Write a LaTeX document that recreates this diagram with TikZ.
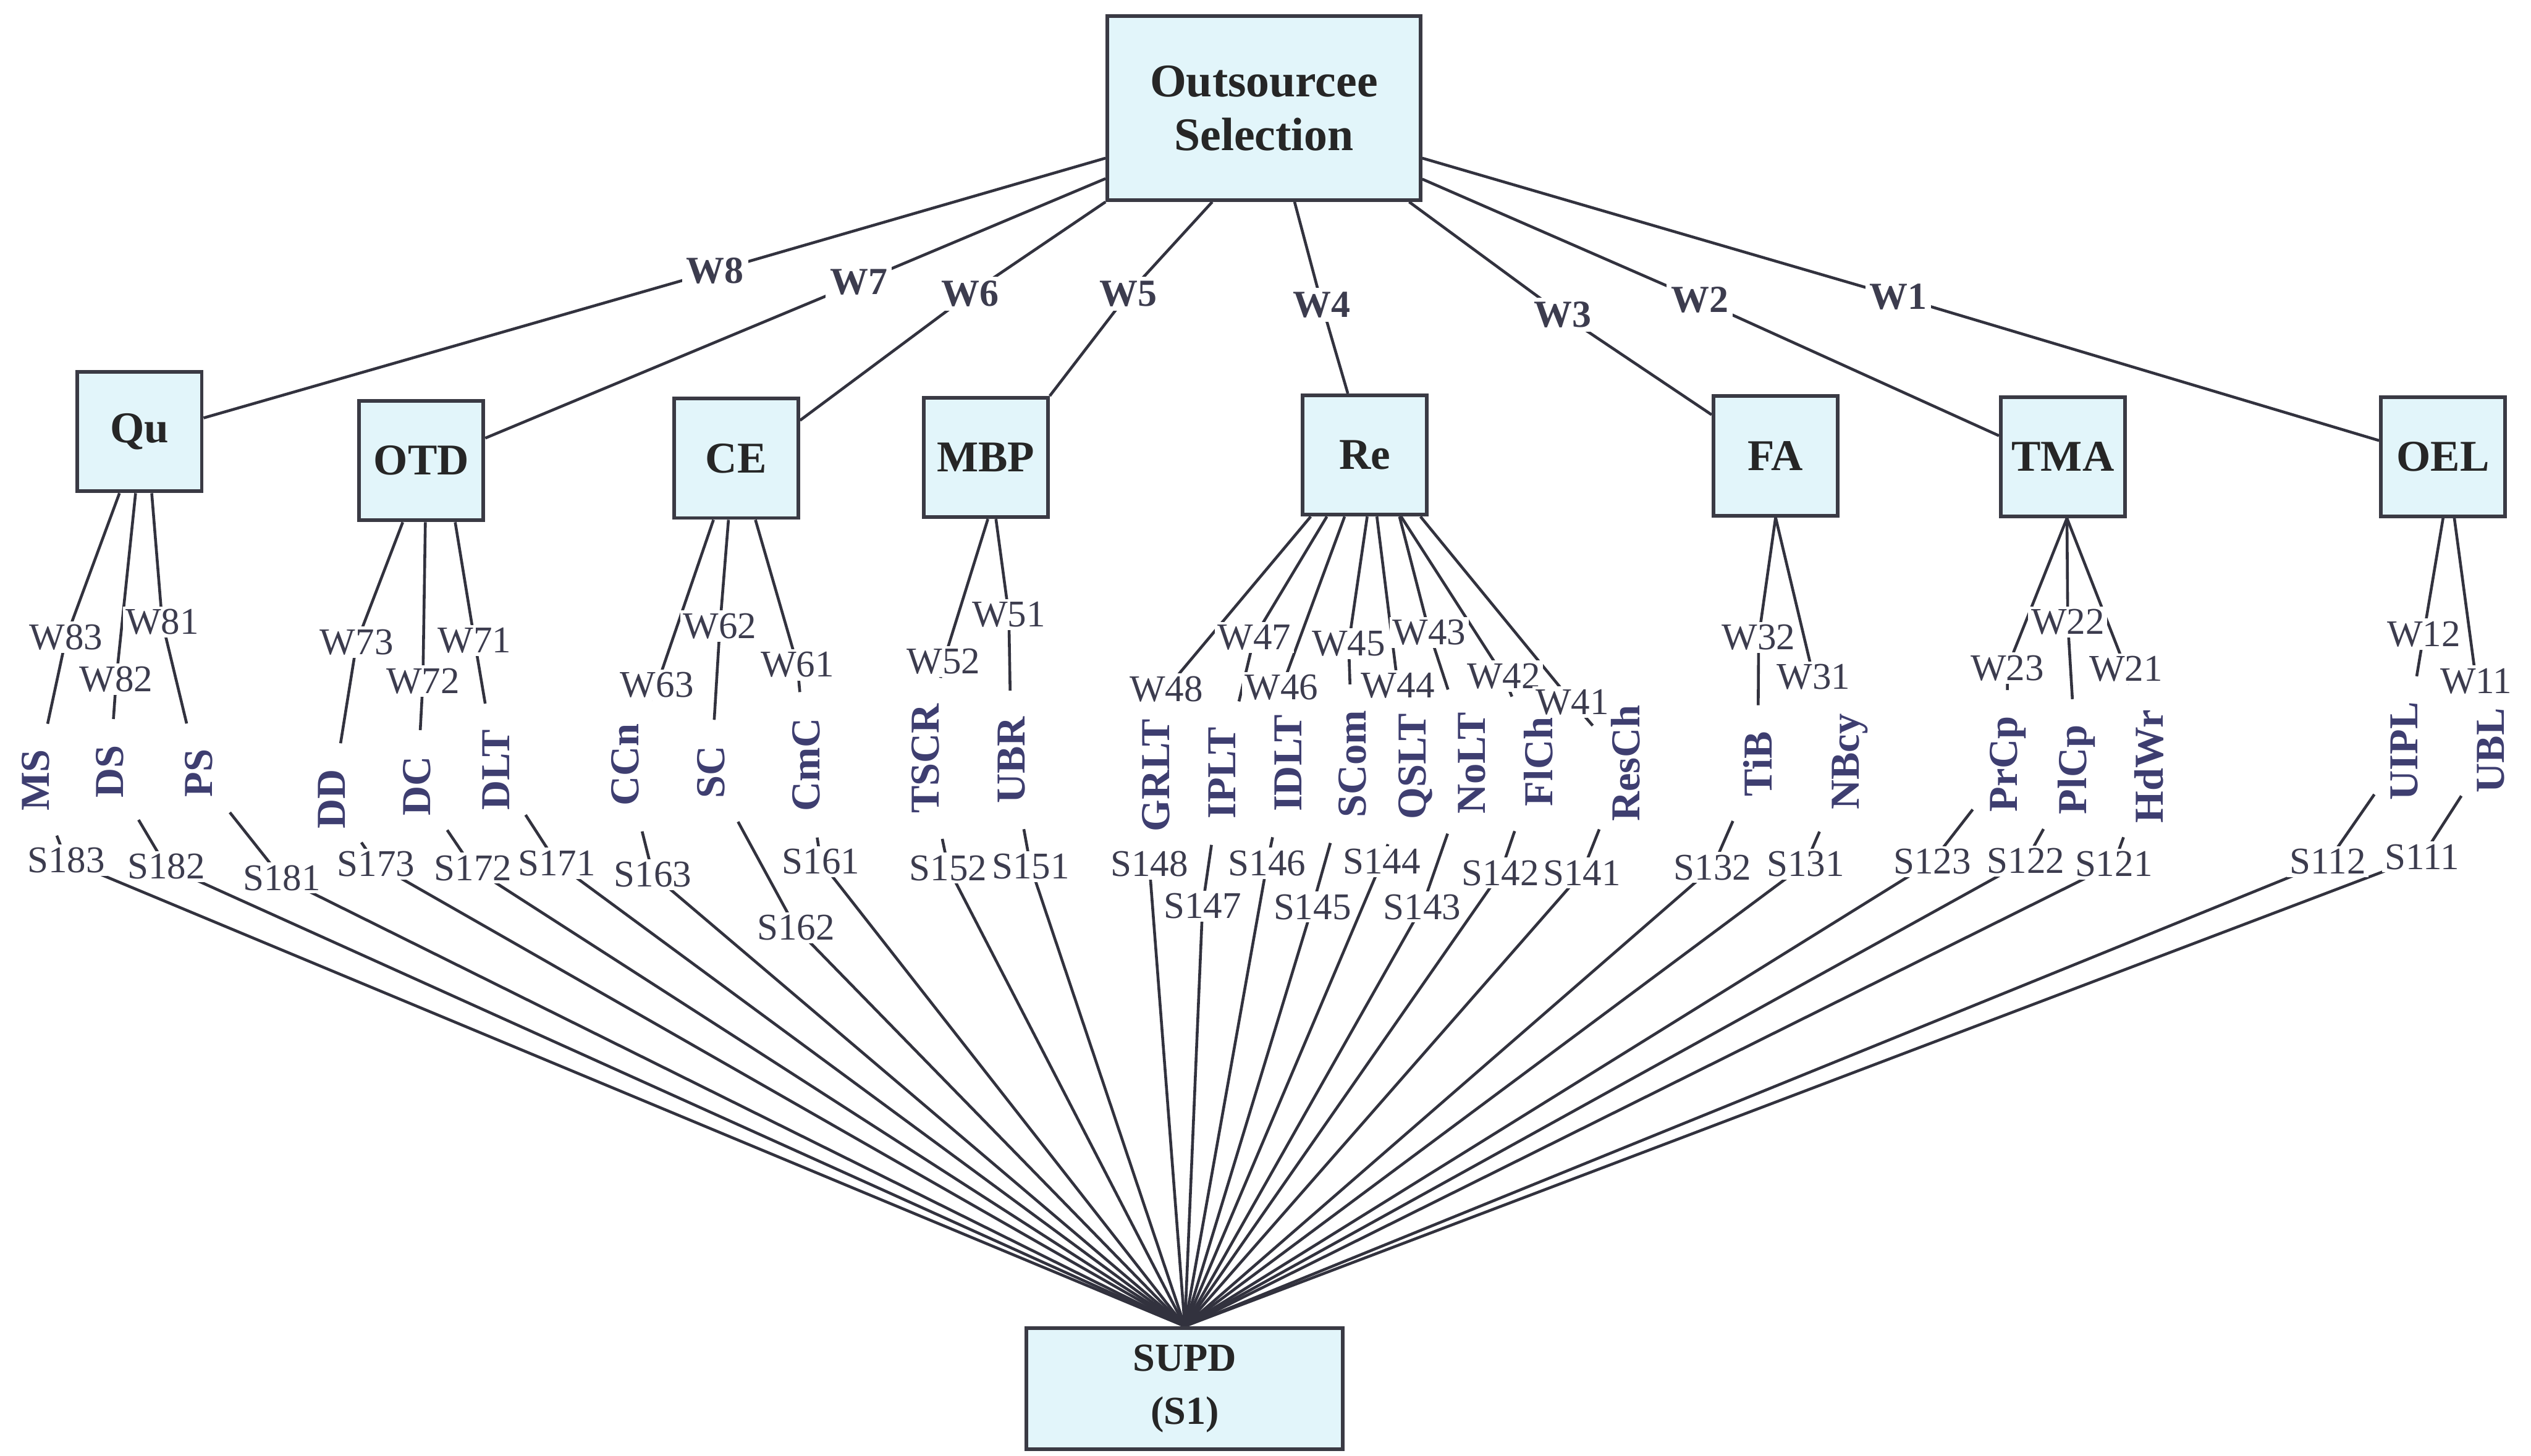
\documentclass[tikz,border=0pt]{standalone}
\usepackage{fontspec}
\setmainfont{Liberation Serif}
\usetikzlibrary{calc,backgrounds}

\definecolor{boxfill}{RGB}{226,245,250}
\definecolor{boxline}{RGB}{58,58,68}
\definecolor{linecol}{RGB}{50,50,62}
\definecolor{subcol}{RGB}{62,62,112}
\definecolor{labcol}{RGB}{60,60,78}

\begin{document}
\begin{tikzpicture}[x = 0.02cm, y = -0.02cm,
        goal/.style = {draw = boxline, line width = 1.3pt, fill = boxfill, align = center, inner sep = 0pt, text = black!85},
        crit/.style = {draw = boxline, line width = 1.3pt, fill = boxfill, inner sep = 0pt,
            minimum width = 1.54cm, minimum height = 1.48cm, text = black!85,
            font = \fontsize{15.5}{18}\selectfont\bfseries},
        subc/.style = {rotate = 90, inner sep = 1pt, text = subcol,
            font = \fontsize{14.5}{17}\selectfont\bfseries},
        wtop/.style = {fill = white, inner sep = 1.5pt, text = labcol,
            font = \fontsize{13.5}{16}\selectfont\bfseries},
        lab/.style = {fill = white, inner sep = 1pt, text = labcol,
            font = \fontsize{13.3}{16}\selectfont},
        conn/.style = {draw = linecol, line width = 1pt},
        wline/.style = {conn, shorten > = 8pt},
        sline/.style = {conn, shorten < = 8pt}]

        \useasboundingbox ( 0, 0 ) rectangle ( 1568, 902 );

        % цель и альтернатива
        \node [goal, minimum width = 3.88cm, minimum height = 2.28cm, font = \fontsize{16.5}{19}\selectfont\bfseries] (os) at ( 783, 67 ) {Outsourcee\\Selection};
        \node [goal, minimum width = 3.92cm, minimum height = 1.5cm, font = \fontsize{14}{18.8}\selectfont\bfseries] (supd) at ( 734, 860.5 ) {SUPD\\(S1)};

        % критерии
        \node [crit] (qu) at ( 86.5, 267.5 ) {Qu};
        \node [crit] (otd) at ( 261, 285.5 ) {OTD};
        \node [crit] (ce) at ( 456, 284 ) {CE};
        \node [crit] (mbp) at ( 610.7, 283.5 ) {MBP};
        \node [crit] (re) at ( 845.5, 282 ) {Re};
        \node [crit] (fa) at ( 1100, 282.5 ) {FA};
        \node [crit] (tma) at ( 1278, 283 ) {TMA};
        \node [crit] (oel) at ( 1513.5, 283 ) {OEL};

        % веса критериев
        \node [wtop] (w8) at ( 443, 168 ) {W8};
        \node [wtop] (w7) at ( 532, 175 ) {W7};
        \node [wtop] (w6) at ( 601, 182 ) {W6};
        \node [wtop] (w5) at ( 699, 182 ) {W5};
        \node [wtop] (w4) at ( 819, 189 ) {W4};
        \node [wtop] (w3) at ( 968, 195 ) {W3};
        \node [wtop] (w2) at ( 1053, 186 ) {W2};
        \node [wtop] (w1) at ( 1176, 184 ) {W1};

        % подкритерии
        \node [subc] (ms) at ( 22, 483.5 ) {MS};
        \node [subc] (ds) at ( 68, 478 ) {DS};
        \node [subc] (ps) at ( 123, 479 ) {PS};
        \node [subc] (dd) at ( 205.5, 495 ) {DD};
        \node [subc] (dc) at ( 258.5, 487 ) {DC};
        \node [subc] (dlt) at ( 307.5, 477 ) {DLT};
        \node [subc] (ccn) at ( 387.5, 474 ) {CCn};
        \node [subc] (sc) at ( 440.5, 478.5 ) {SC};
        \node [subc] (cmc) at ( 499.5, 474 ) {CmC};
        \node [subc] (tscr) at ( 573.5, 470 ) {TSCR};
        \node [subc] (ubr) at ( 626.5, 471 ) {UBR};
        \node [subc] (grlt) at ( 716, 480.5 ) {GRLT};
        \node [subc] (iplt) at ( 757, 479 ) {IPLT};
        \node [subc] (idlt) at ( 798, 473 ) {IDLT};
        \node [subc] (scom) at ( 838, 473.5 ) {SCom};
        \node [subc] (qslt) at ( 877, 475 ) {QSLT};
        \node [subc] (nolt) at ( 912, 473 ) {NoLT};
        \node [subc] (flch) at ( 953, 472 ) {FlCh};
        \node [subc] (resch) at ( 1007, 473 ) {ResCh};
        \node [subc] (tib) at ( 1089, 473.5 ) {TiB};
        \node [subc] (nbcy) at ( 1146, 472 ) {NBcy};
        \node [subc] (prcp) at ( 1244, 473.5 ) {PrCp};
        \node [subc] (plcp) at ( 1286.5, 477 ) {PlCp};
        \node [subc] (hdwr) at ( 1331.5, 475 ) {HdWr};
        \node [subc] (uipl) at ( 1489.5, 465.5 ) {UIPL};
        \node [subc] (ubl) at ( 1543, 465 ) {UBL};

        % веса подкритериев
        \node [lab] (w83) at ( 41, 395 ) {W83};
        \node [lab] (w82) at ( 72, 421 ) {W82};
        \node [lab] (w81) at ( 100.5, 385.5 ) {W81};
        \node [lab] (w73) at ( 221, 398 ) {W73};
        \node [lab] (w72) at ( 262, 422 ) {W72};
        \node [lab] (w71) at ( 294, 397 ) {W71};
        \node [lab] (w63) at ( 407, 424.5 ) {W63};
        \node [lab] (w62) at ( 446, 388 ) {W62};
        \node [lab] (w61) at ( 494, 412 ) {W61};
        \node [lab] (w52) at ( 584.5, 410 ) {W52};
        \node [lab] (w51) at ( 625, 381 ) {W51};
        \node [lab] (w48) at ( 722.5, 427 ) {W48};
        \node [lab] (w47) at ( 777, 395 ) {W47};
        \node [lab] (w46) at ( 794, 426 ) {W46};
        \node [lab] (w45) at ( 835.5, 399 ) {W45};
        \node [lab] (w44) at ( 866, 425 ) {W44};
        \node [lab] (w43) at ( 885.5, 392 ) {W43};
        \node [lab] (w42) at ( 931.5, 419 ) {W42};
        \node [lab] (w41) at ( 974, 435 ) {W41};
        \node [lab] (w32) at ( 1089.5, 395 ) {W32};
        \node [lab] (w31) at ( 1123.5, 419.5 ) {W31};
        \node [lab] (w23) at ( 1243.5, 414 ) {W23};
        \node [lab] (w22) at ( 1281, 385.5 ) {W22};
        \node [lab] (w21) at ( 1317, 414.5 ) {W21};
        \node [lab] (w12) at ( 1501.5, 393 ) {W12};
        \node [lab] (w11) at ( 1534, 422 ) {W11};

        % оценки альтернативы
        \node [lab] (s183) at ( 41, 533 ) {S183};
        \node [lab] (s182) at ( 103, 537 ) {S182};
        \node [lab] (s181) at ( 174.5, 544 ) {S181};
        \node [lab] (s173) at ( 233, 535.5 ) {S173};
        \node [lab] (s172) at ( 293, 538 ) {S172};
        \node [lab] (s171) at ( 345, 535 ) {S171};
        \node [lab] (s163) at ( 404.5, 542 ) {S163};
        \node [lab] (s162) at ( 493, 575 ) {S162};
        \node [lab] (s161) at ( 508.5, 534 ) {S161};
        \node [lab] (s152) at ( 587.5, 538 ) {S152};
        \node [lab] (s151) at ( 638.5, 537 ) {S151};
        \node [lab] (s148) at ( 712, 535.5 ) {S148};
        \node [lab] (s147) at ( 745, 561.5 ) {S147};
        \node [lab] (s146) at ( 785, 535 ) {S146};
        \node [lab] (s145) at ( 813, 562 ) {S145};
        \node [lab] (s144) at ( 856, 534 ) {S144};
        \node [lab] (s143) at ( 881, 562 ) {S143};
        \node [lab] (s142) at ( 929.5, 541 ) {S142};
        \node [lab] (s141) at ( 980, 541 ) {S141};
        \node [lab] (s132) at ( 1061, 537.5 ) {S132};
        \node [lab] (s131) at ( 1118.5, 535.5 ) {S131};
        \node [lab] (s123) at ( 1197, 534 ) {S123};
        \node [lab] (s122) at ( 1255, 533.5 ) {S122};
        \node [lab] (s121) at ( 1309.5, 535.5 ) {S121};
        \node [lab] (s112) at ( 1442, 534 ) {S112};
        \node [lab] (s111) at ( 1500.5, 531 ) {S111};

        \begin{scope}[on background layer]
            % цель -- критерии
            \draw [conn] ($(os.west) + (0,31)$) -- (w8.center) -- ($(qu.east) + (0,-8.5)$);
            \draw [conn] ($(os.west) + (0,43.7)$) -- (w7.center) -- ($(otd.east) + (0,-14)$);
            \draw [conn] (os.south west) -- (w6.center) -- ($(ce.east) + (0,-23.5)$);
            \draw [conn] ($(os.south) + (-32,0)$) -- (w5.center) -- (mbp.north east);
            \draw [conn] ($(os.south) + (19,0)$) -- (w4.center) -- ($(re.north) + (-10.5,0)$);
            \draw [conn] ($(os.south) + (90,0)$) -- (w3.center) -- ($(fa.west) + (0,-25.5)$);
            \draw [conn] ($(os.east) + (0,44)$) -- (w2.center) -- ($(tma.west) + (0,-13)$);
            \draw [conn] ($(os.east) + (0,31)$) -- (w1.center) -- ($(oel.west) + (0,-10)$);

            % критерии -- подкритерии
            \draw [wline] ($(qu.south) + (-12.5,0)$) -- (w83.center) -- (ms);
            \draw [wline] ($(qu.south) + (-2.5,0)$) -- (w82.center) -- (ds);
            \draw [wline] ($(qu.south) + (7.5,0)$) -- (w81.center) -- (ps);
            \draw [wline] ($(otd.south) + (-11.5,0)$) -- (w73.center) -- (dd);
            \draw [wline] ($(otd.south) + (2.5,0)$) -- (w72.center) -- (dc);
            \draw [wline] ($(otd.south) + (21,0)$) -- (w71.center) -- (dlt);
            \draw [wline] ($(ce.south) + (-14,0)$) -- (w63.center) -- (ccn);
            \draw [wline] ($(ce.south) + (-4.7,0)$) -- (w62.center) -- (sc);
            \draw [wline] ($(ce.south) + (12,0)$) -- (w61.center) -- (cmc);
            \draw [wline] ($(mbp.south) + (1.3,0)$) -- (w52.center) -- (tscr);
            \draw [wline] ($(mbp.south) + (6.3,0)$) -- (w51.center) -- (ubr);
            \draw [wline] ($(re.south) + (-33.5,0)$) -- (w48.center) -- (grlt);
            \draw [wline] ($(re.south) + (-23.5,0)$) -- (w47.center) -- (iplt);
            \draw [wline] ($(re.south) + (-12.5,0)$) -- (w46.center) -- (idlt);
            \draw [wline] ($(re.south) + (1.5,0)$) -- (w45.center) -- (scom);
            \draw [wline] ($(re.south) + (7.5,0)$) -- (w44.center) -- (qslt);
            \draw [wline] ($(re.south) + (21.5,0)$) -- (w43.center) -- (nolt);
            \draw [wline] ($(re.south) + (22.5,0)$) -- (w42.center) -- (flch);
            \draw [wline] ($(re.south) + (34.5,0)$) -- (w41.center) -- (resch);
            \draw [wline] (fa.south) -- (w32.center) -- (tib);
            \draw [wline] (fa.south) -- (w31.center) -- (nbcy);
            \draw [wline] ($(tma.south) + (2.5,0)$) -- (w23.center) -- (prcp);
            \draw [wline] ($(tma.south) + (2.5,0)$) -- (w22.center) -- (plcp);
            \draw [wline] ($(tma.south) + (2.5,0)$) -- (w21.center) -- (hdwr);
            \draw [wline] (oel.south) -- (w12.center) -- (uipl);
            \draw [wline] ($(oel.south) + (7,0)$) -- (w11.center) -- (ubl);

            % подкритерии -- альтернатива
            \draw [sline] (ms) -- (s183.center) -- (supd.north);
            \draw [sline] (ds) -- (s182.center) -- (supd.north);
            \draw [sline] (ps) -- (s181.center) -- (supd.north);
            \draw [sline] (dd) -- (s173.center) -- (supd.north);
            \draw [sline] (dc) -- (s172.center) -- (supd.north);
            \draw [sline] (dlt) -- (s171.center) -- (supd.north);
            \draw [sline] (ccn) -- (s163.center) -- (supd.north);
            \draw [sline] (sc) -- (s162.center) -- (supd.north);
            \draw [sline] (cmc) -- (s161.center) -- (supd.north);
            \draw [sline] (tscr) -- (s152.center) -- (supd.north);
            \draw [sline] (ubr) -- (s151.center) -- (supd.north);
            \draw [sline] (grlt) -- (s148.center) -- (supd.north);
            \draw [sline] (iplt) -- (s147.center) -- (supd.north);
            \draw [sline] (idlt) -- (s146.center) -- (supd.north);
            \draw [sline] (scom) -- (s145.center) -- (supd.north);
            \draw [sline] (qslt) -- (s144.center) -- (supd.north);
            \draw [sline] (nolt) -- (s143.center) -- (supd.north);
            \draw [sline] (flch) -- (s142.center) -- (supd.north);
            \draw [sline] (resch) -- (s141.center) -- (supd.north);
            \draw [sline] (tib) -- (s132.center) -- (supd.north);
            \draw [sline] (nbcy) -- (s131.center) -- (supd.north);
            \draw [sline] (prcp) -- (s123.center) -- (supd.north);
            \draw [sline] (plcp) -- (s122.center) -- (supd.north);
            \draw [sline] (hdwr) -- (s121.center) -- (supd.north);
            \draw [sline] (uipl) -- (s112.center) -- (supd.north);
            \draw [sline] (ubl) -- (s111.center) -- (supd.north);
        \end{scope}
    \end{tikzpicture}
\end{document}
